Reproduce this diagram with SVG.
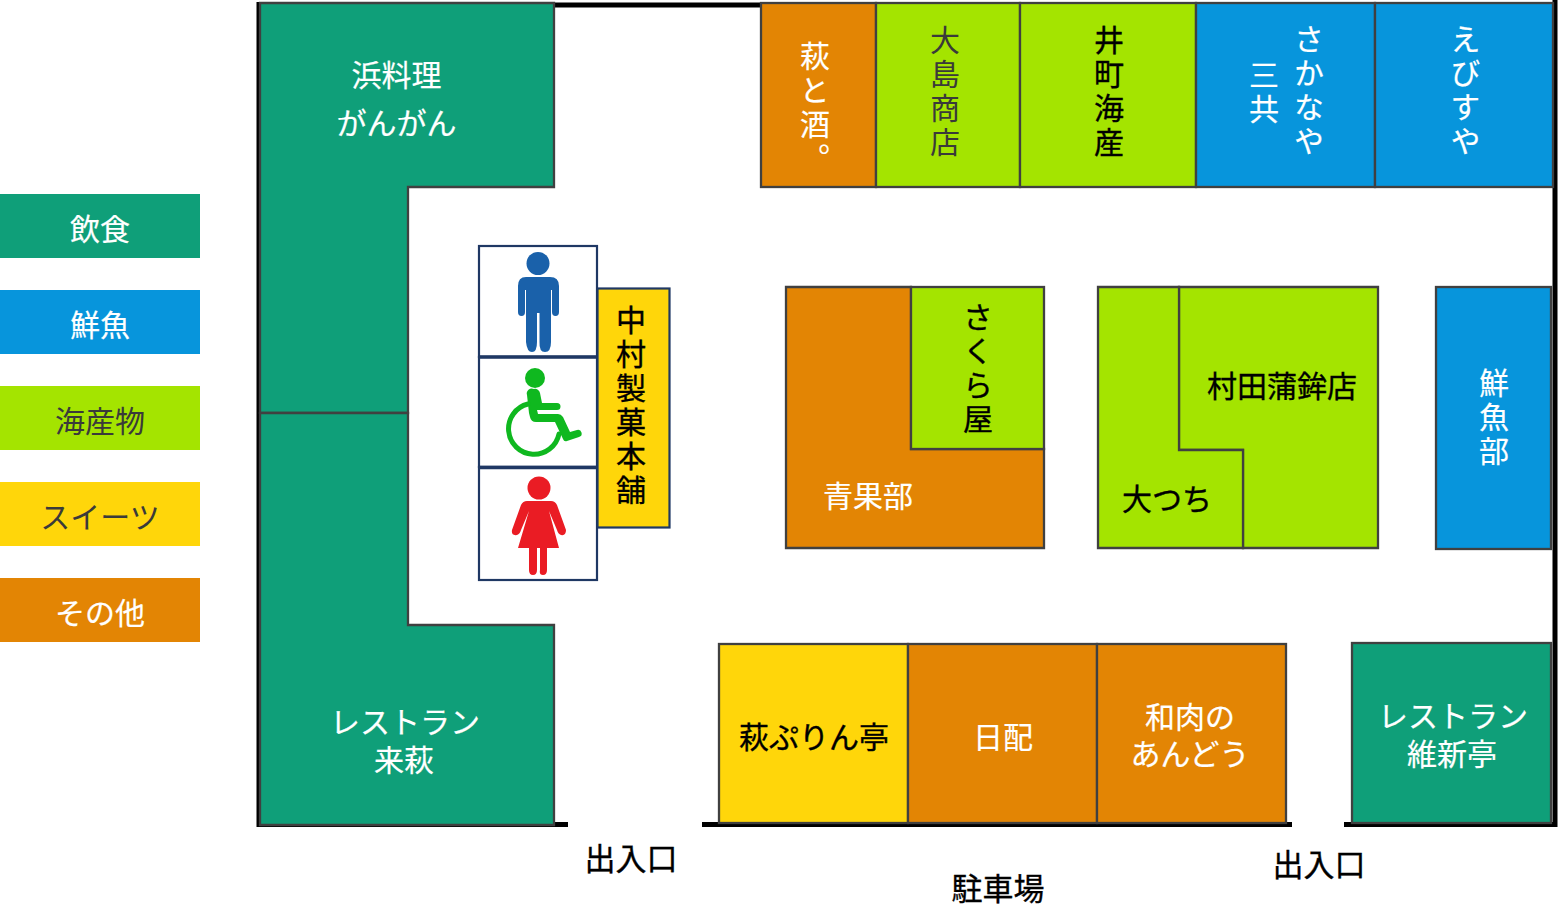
<svg xmlns="http://www.w3.org/2000/svg" width="1558" height="914" viewBox="0 0 1558 914">
<style>
text{font-family:"Noto Sans CJK JP","Noto Sans",sans-serif;font-size:30px;text-anchor:middle}
.w{fill:#fff;stroke:#fff;stroke-width:.2}.k{fill:#000;stroke:#000;stroke-width:.35}.d{fill:#3a3a3a}
.v{writing-mode:vertical-rl;letter-spacing:4px;text-anchor:start}
.s{stroke:#404040;stroke-width:2.3}
.g{fill:#0f9f79}.b{fill:#0795dc}.l{fill:#a4e400}.y{fill:#ffd60a}.o{fill:#e38504}
.wall{stroke:#000;stroke-width:5;fill:none}
.wc{fill:#fff;stroke:#1f3864;stroke-width:2.200}
.lab{font-size:31px}
</style>
<rect width="1558" height="914" fill="#fff"/>
<g id="walls" class="wall">
<path d="M555 5H762"/>
<path d="M1555 0V824.500H1344"/>
<path d="M1292 824.500H702"/>
<path d="M568 824.500H259V2"/>
</g>
<g id="legend">
<g id="legend-food"><rect class="g" x="0" y="194" width="200" height="64"/><text class="w" x="100" y="240">飲食</text></g>
<g id="legend-fish"><rect class="b" x="0" y="290" width="200" height="64"/><text class="w" x="100" y="336">鮮魚</text></g>
<g id="legend-sea"><rect class="l" x="0" y="386" width="200" height="64"/><text class="d" x="100" y="432">海産物</text></g>
<g id="legend-sweet"><rect class="y" x="0" y="482" width="200" height="64"/><text class="d" x="100" y="528">スイーツ</text></g>
<g id="legend-other"><rect class="o" x="0" y="578" width="200" height="64"/><text class="w" x="100" y="624">その他</text></g>
</g>
<g id="hamaryori"><path class="g s" d="M260 3H554V187H408V413H260Z"/><text class="w" x="396.500" y="86">浜料理</text><text class="w" x="396.500" y="134">がんがん</text></g>
<g id="raihagi"><path class="g s" d="M260 413H408V625H554V825H260Z"/><text class="w" x="405" y="733">レストラン</text><text class="w" x="404" y="771">来萩</text></g>
<g id="hagitosake"><rect class="o s" x="761" y="3" width="115" height="184"/><text class="w v" x="815" y="41">萩と酒。</text></g>
<g id="oshima"><rect class="l s" x="876" y="3" width="144" height="184"/><text class="d v" x="945" y="25">大島商店</text></g>
<g id="imachi"><rect class="l s" x="1020" y="3" width="176" height="184"/><text class="k v" x="1109" y="25">井町海産</text></g>
<g id="sakanaya"><rect class="b s" x="1196" y="3" width="179" height="184"/><text class="w v" x="1309" y="24">さかなや</text><text class="w v" x="1264" y="60">三共</text></g>
<g id="ebisuya"><rect class="b s" x="1375" y="3" width="178" height="184"/><text class="w v" x="1465.500" y="24">えびすや</text></g>
<g id="wc">
<rect class="wc" x="479" y="246" width="118" height="111"/>
<rect class="wc" x="479" y="357" width="118" height="110"/>
<rect class="wc" x="479" y="467" width="118" height="113"/>
<path d="M479 357H597M479 467.500H597" stroke="#1f3864" stroke-width="3.500"/>
<g fill="#1a61aa"><circle cx="538" cy="263.500" r="11.500"/><path d="M526 277H550Q559 277 559 286V312Q559 316 555.500 316T552 312V290H551V342Q551 352 545 352T539.500 342V313H537V342Q537 352 532 352T526 342V290H525V312Q525 316 521.500 316T518 312V286Q518 277 526 277Z"/></g>
<g fill="#0fb81f"><circle cx="535" cy="378" r="10"/><path d="M534 389a5 5 0 0 1 6 4l2 10h15a3 3 0 0 1 0 7H540l-3 0 0 0 1 4h20q3 0 5 3l7 15 7-2a3.500 3.500 0 0 1 2 7l-12 4q-3 1-4-2l-8-17H536q-5 0-6-5l-1-4-2-18a5 5 0 0 1 7-6Z"/><path d="M528 404A25.500 25.500 0 1 0 559 434" fill="none" stroke="#0fb81f" stroke-width="5" stroke-linecap="round"/></g>
<g fill="#ea1c24"><circle cx="539" cy="488" r="11.500"/><path d="M527 501H551Q555 501 557 505L566 530Q566 536 561 535Q558 534 557 530L549 511L559 548H547V570Q547 575 543 575T540 570V548H537V570Q537 575 533 575T529 570V548H518L529 511L521 530Q520 534 517 535Q511 536 512 530L521 505Q523 501 527 501Z"/></g>
</g>
<g id="nakamura"><rect class="y" x="597.500" y="288.500" width="72" height="239" stroke="#1f3864" stroke-width="2.200"/><text class="k v" x="631" y="305">中村製菓本舗</text></g>
<g id="seikabu"><path class="o s" d="M786 287H911V449H1044V548H786Z"/><text class="w" x="868" y="507">青果部</text></g>
<g id="sakuraya"><rect class="l s" x="911" y="287" width="133" height="162"/><text class="k v" x="978" y="302">さくら屋</text></g>
<g id="muratasan"><path class="l s" d="M1179 287H1378V548H1243V450H1179Z"/><text class="k" x="1282" y="397">村田蒲鉾店</text></g>
<g id="otsuchi"><path class="l s" d="M1098 287H1179V450H1243V548H1098Z"/><text class="k" x="1167" y="510">大つち</text></g>
<g id="sengyobu"><rect class="b s" x="1436" y="287" width="115" height="262"/><text class="w v" x="1494" y="368">鮮魚部</text></g>
<g id="hagipurin"><rect class="y s" x="719" y="644" width="189" height="179"/><text class="k" x="814" y="748">萩ぷりん亭</text></g>
<g id="nippai"><rect class="o s" x="908" y="644" width="189" height="179"/><text class="w" x="1003" y="748">日配</text></g>
<g id="andou"><rect class="o s" x="1097" y="644" width="189" height="179"/><text class="w" x="1190" y="728">和肉の</text><text class="w" x="1190" y="765">あんどう</text></g>
<g id="ishintei"><rect class="g s" x="1352" y="643" width="199" height="180"/><text class="w" x="1453" y="727">レストラン</text><text class="w" x="1452" y="765">維新亭</text></g>
<g id="labels">
<text class="k lab" x="631" y="870">出入口</text>
<text class="k lab" x="1319" y="876">出入口</text>
<text class="k lab" x="998" y="900">駐車場</text>
</g>
</svg>
